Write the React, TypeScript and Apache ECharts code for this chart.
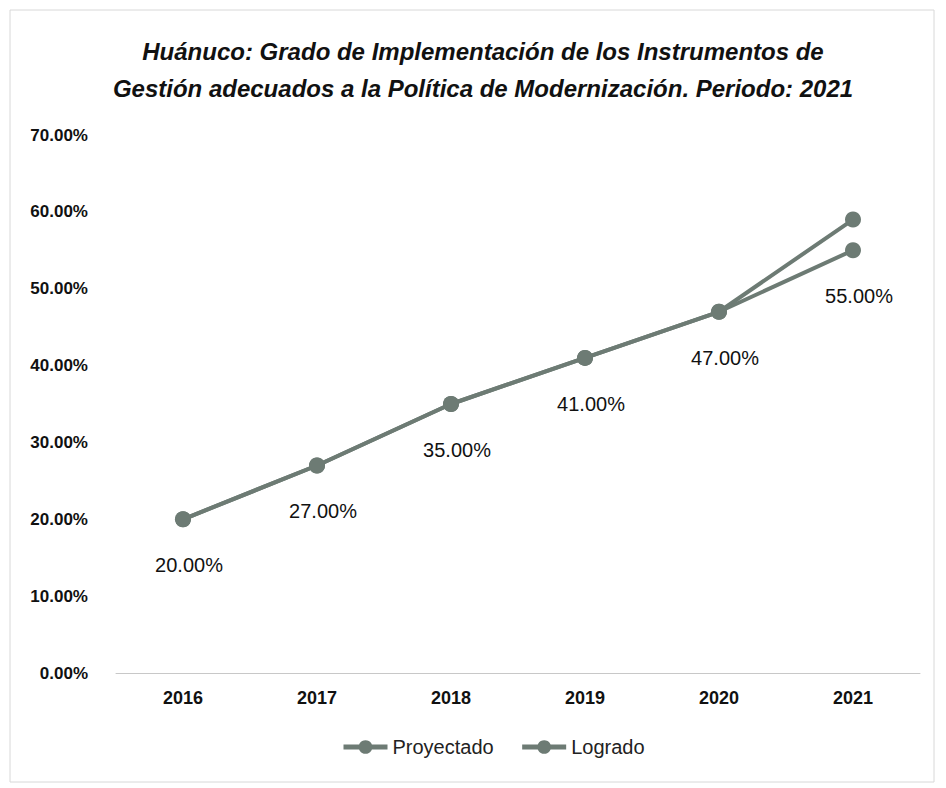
import React, { useEffect, useRef } from "react";
import * as echarts from "echarts";

const categories = ["2016", "2017", "2018", "2019", "2020", "2021"];
const proyectado = [20, 27, 35, 41, 47, 55];
const logrado = [20, 27, 35, 41, 47, 59];
const yTicks = [0, 10, 20, 30, 40, 50, 60, 70];
const titleLines = [
  "Huánuco: Grado de Implementación de los Instrumentos de",
  "Gestión adecuados a la Política de Modernización. Periodo: 2021",
];

const LINE = "#6d7b74";
const FONT = "'Liberation Sans', 'DejaVu Sans', sans-serif";

export default function App() {
  const ref = useRef<HTMLDivElement>(null);
  useEffect(() => {
    if (!ref.current) return;
    const chart = echarts.init(ref.current, undefined, { renderer: "svg" });
    chart.setOption({
      animation: false,
      backgroundColor: "#ffffff",
      title: {
        text: titleLines.join("\n"),
        left: 478,
        textAlign: "center",
        top: 28,
        textStyle: {
          fontFamily: FONT,
          fontStyle: "italic",
          fontWeight: "bold",
          fontSize: 24,
          lineHeight: 37,
          color: "#111",
        },
      },
      graphic: [
        {
          type: "rect",
          shape: { x: 10, y: 10, width: 924, height: 772 },
          style: { fill: "none", stroke: "#d8d8d8", lineWidth: 1 },
          silent: true,
        },
      ],
      legend: {
        bottom: 26,
        left: 336,
        itemWidth: 44,
        itemHeight: 17,
        itemGap: 26,
        data: ["Proyectado", "Logrado"],
        lineStyle: { width: 5, color: LINE },
        itemStyle: { color: LINE },
        textStyle: { fontFamily: FONT, fontSize: 20, color: "#222" },
      },
      grid: { left: 116, right: 26, top: 135, bottom: 115 },
      xAxis: {
        type: "category",
        data: categories,
        boundaryGap: true,
        axisLine: { lineStyle: { color: "#c8c8c8", width: 1 } },
        axisTick: { show: false },
        axisLabel: {
          margin: 16,
          fontFamily: FONT,
          fontWeight: "bold",
          fontSize: 18,
          color: "#111",
        },
      },
      yAxis: {
        type: "value",
        min: yTicks[0],
        max: yTicks[yTicks.length - 1],
        interval: 10,
        axisLine: { show: false },
        axisTick: { show: false },
        splitLine: { show: false },
        axisLabel: {
          margin: 28,
          fontFamily: FONT,
          fontWeight: "bold",
          fontSize: 17,
          color: "#111",
          formatter: (v: number) => v.toFixed(2) + "%",
        },
      },
      series: [
        {
          name: "Logrado",
          type: "line",
          data: logrado,
          symbol: "circle",
          symbolSize: 16,
          lineStyle: { color: LINE, width: 4 },
          itemStyle: { color: LINE },
          z: 2,
        },
        {
          name: "Proyectado",
          type: "line",
          data: proyectado,
          symbol: "circle",
          symbolSize: 16,
          lineStyle: { color: LINE, width: 4 },
          itemStyle: { color: LINE },
          z: 3,
          label: {
            show: true,
            position: "bottom",
            distance: 28,
            offset: [6, 0],
            fontFamily: FONT,
            fontSize: 20,
            color: "#111",
            formatter: (p: any) => Number(p.value).toFixed(2) + "%",
          },
        },
      ],
    });
    return () => chart.dispose();
  }, []);
  return (
    <div
      ref={ref}
      style={{ position: "fixed", left: 0, top: 0, width: 946, height: 788 }}
    />
  );
}
